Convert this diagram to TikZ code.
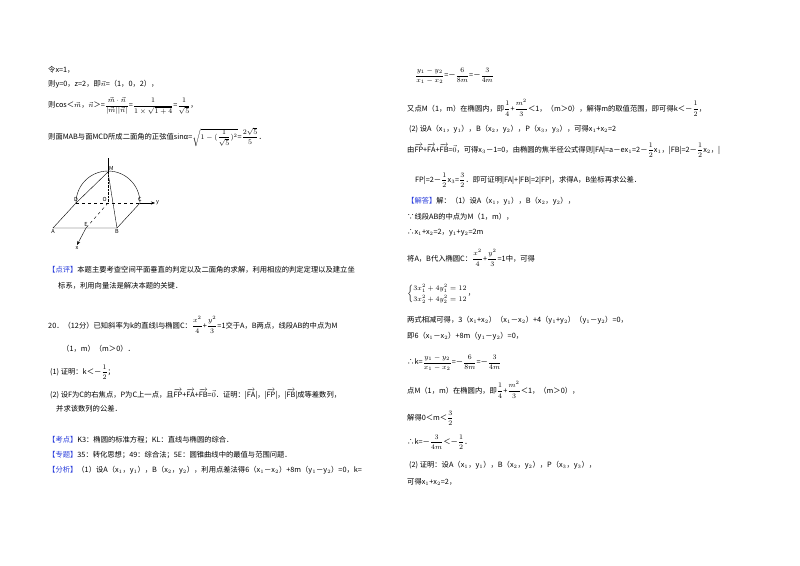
\documentclass[tikz,border=0pt]{standalone}
\usepackage{fontspec}
\usepackage{amsmath}
\setmainfont{Noto Sans CJK SC}
\setsansfont{Noto Sans CJK SC}
\usetikzlibrary{arrows.meta}
\definecolor{tagblue}{RGB}{40,60,220}
\newcommand{\tg}[1]{{\color{tagblue}【#1】}}
\newcommand{\vc}[1]{\overrightarrow{\mathrm{#1}}}
\newcommand{\fr}[2]{\dfrac{#1}{#2}}
\begin{document}
\begin{tikzpicture}[x=1pt,y=-1pt,
  tx/.style={anchor=west,inner sep=0pt,font=\fontsize{7.3}{8}\selectfont},
  lbl/.style={font=\fontsize{5.5}{6}\selectfont\itshape,inner sep=1pt},
  fig/.style={line width=0.4pt}]
\useasboundingbox[fill=white] (0,0) rectangle (800,565);
% left column
\node[tx] (l1) at (48,70) {令x=1，};
\node[tx] (l2) at (48,84) {则y=0，z=2，即$\vec{n}$=（1，0，2），};
\node[tx] (l3) at (48,106) {则cos＜$\vec{m}$，$\vec{n}$＞=$\fr{\vec m\cdot\vec n}{|\vec m||\vec n|}$=$\fr{1}{1\times\sqrt{1+4}}$=$\fr{1}{\sqrt5}$，};
\node[tx] (l4) at (48,137) {则面MAB与面MCD所成二面角的正弦值sinα=$\sqrt{1-(\fr{1}{\sqrt5})^2}$=$\fr{2\sqrt5}{5}$．};
% figure
\coordinate (O) at (108,203);
\coordinate (M) at (108,172);
\coordinate (D) at (76,203);
\coordinate (C) at (140,203);
\coordinate (A) at (53,228);
\coordinate (B) at (117,228);
\coordinate (E) at (86,228);
\coordinate (X) at (77,245);
\coordinate (Y) at (155,203);
\coordinate (Z) at (108,158);
\draw[fig] (D) arc[start angle=180,end angle=360,radius=32];
\draw[fig] (M) -- (Z);
\draw[fig,densely dotted] (M) -- (O);
\draw[fig,dashed] (D) -- (C);
\draw[fig,-{Stealth[length=4pt]}] (C) -- (Y);
\draw[fig,dashed] (O) -- (E);
\draw[fig,-{Stealth[length=4pt]}] (E) -- (X);
\draw[fig] (D) -- (A) -- (B) -- (C);
\draw[fig] (M) -- (D);
\draw[fig] (M) -- (B);
\node[lbl,anchor=south west] (nM) at (M) {M};
\node[lbl,anchor=south east] (nO) at (O) {O};
\node[lbl,anchor=south] (nD) at (D) {D};
\node[lbl,anchor=south] (nC) at (C) {C};
\node[lbl,anchor=north] (nA) at (A) {A};
\node[lbl,anchor=north] (nB) at (B) {B};
\node[lbl,anchor=south] (nE) at (E) {E};
\node[lbl,anchor=north] (nX) at (X) {x};
\node[lbl,anchor=west] (nY) at (Y) {y};
\node[tx] (l5) at (48,270) {\tg{点评}本题主要考查空间平面垂直的判定以及二面角的求解，利用相应的判定定理以及建立坐};
\node[tx] (l6) at (58,286) {标系，利用向量法是解决本题的关键．};
\node[tx] (l7) at (48,325) {20．（12分）已知斜率为k的直线l与椭圆C：$\fr{x^2}{4}$+$\fr{y^2}{3}$=1交于A，B两点，线段AB的中点为M};
\node[tx] (l8) at (62,349) {（1，m）（m＞0）．};
\node[tx] (l9) at (50,372) {(1) 证明：k＜－$\fr12$；};
\node[tx] (l10) at (50,394) {(2) 设F为C的右焦点，P为C上一点，且$\vc{FP}$+$\vc{FA}$+$\vc{FB}$=$\vec0$．证明：|$\vc{FA}$|，|$\vc{FP}$|，|$\vc{FB}$|成等差数列，};
\node[tx] (l11) at (56,409) {并求该数列的公差．};
\node[tx] (l12) at (48,440) {\tg{考点}K3：椭圆的标准方程；KL：直线与椭圆的综合．};
\node[tx] (l13) at (48,455) {\tg{专题}35：转化思想；49：综合法；5E：圆锥曲线中的最值与范围问题．};
\node[tx] (l14) at (48,470) {\tg{分析}（1）设A（x$_1$，y$_1$），B（x$_2$，y$_2$），利用点差法得6（x$_1$－x$_2$）+8m（y$_1$－y$_2$）=0，k=};
% right column
\node[tx] (r1) at (415,76) {$\fr{y_1-y_2}{x_1-x_2}$=－$\fr{6}{8m}$=－$\fr{3}{4m}$};
\node[tx] (r2) at (407,108) {又点M（1，m）在椭圆内，即$\fr14$+$\fr{m^2}{3}$＜1，（m＞0），解得m的取值范围，即可得k＜－$\fr12$，};
\node[tx] (r3) at (409,129) {(2) 设A（x$_1$，y$_1$），B（x$_2$，y$_2$），P（x$_3$，y$_3$），可得x$_1$+x$_2$=2};
\node[tx] (r4) at (407,150) {由$\vc{FP}$+$\vc{FA}$+$\vc{FB}$=$\vec0$，可得x$_3$－1=0，由椭圆的焦半径公式得则|FA|=a－ex$_1$=2－$\fr12$x$_1$，|FB|=2－$\fr12$x$_2$，|};
\node[tx] (r5) at (415,180) {FP|=2－$\fr12$x$_3$=$\fr32$．即可证明|FA|+|FB|=2|FP|，求得A，B坐标再求公差．};
\node[tx] (r6) at (407,201) {\tg{解答}解：（1）设A（x$_1$，y$_1$），B（x$_2$，y$_2$），};
\node[tx] (r7) at (407,217) {∵线段AB的中点为M（1，m），};
\node[tx] (r8) at (407,233) {∴x$_1$+x$_2$=2，y$_1$+y$_2$=2m};
\node[tx] (r9) at (407,258) {将A，B代入椭圆C：$\fr{x^2}{4}$+$\fr{y^2}{3}$=1中，可得};
\node[tx] (r10) at (407,294) {$\left\{\begin{array}{@{}l@{}}3x_1^2+4y_1^2=12\\[2pt]3x_2^2+4y_2^2=12\end{array}\right.$，};
\node[tx] (r11) at (407,320) {两式相减可得，3（x$_1$+x$_2$）（x$_1$－x$_2$）+4（y$_1$+y$_2$）（y$_1$－y$_2$）=0，};
\node[tx] (r12) at (407,336) {即6（x$_1$－x$_2$）+8m（y$_1$－y$_2$）=0，};
\node[tx] (r13) at (407,363) {∴k=$\fr{y_1-y_2}{x_1-x_2}$=－$\fr{6}{8m}$=－$\fr{3}{4m}$};
\node[tx] (r14) at (407,390) {点M（1，m）在椭圆内，即$\fr14$+$\fr{m^2}{3}$＜1，（m＞0），};
\node[tx] (r15) at (407,418) {解得0＜m＜$\fr32$};
\node[tx] (r16) at (407,442) {∴k=－$\fr{3}{4m}$＜－$\fr12$．};
\node[tx] (r17) at (409,465) {(2) 证明：设A（x$_1$，y$_1$），B（x$_2$，y$_2$），P（x$_3$，y$_3$），};
\node[tx] (r18) at (407,482) {可得x$_1$+x$_2$=2，};
\end{tikzpicture}
\end{document}
